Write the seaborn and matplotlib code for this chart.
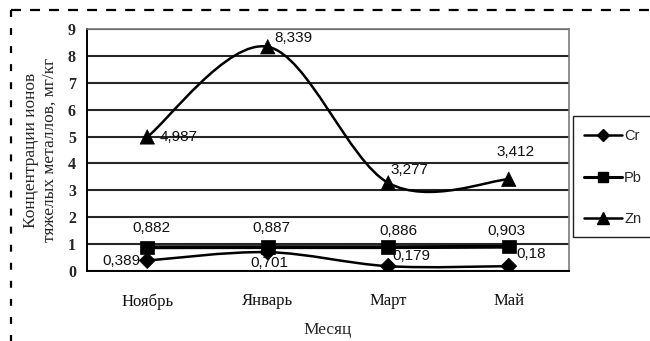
import numpy as np
import pandas as pd
import matplotlib
matplotlib.use("Agg")
import matplotlib.pyplot as plt
from matplotlib.path import Path
from matplotlib.patches import PathPatch, Rectangle
from matplotlib.lines import Line2D
import seaborn as sns

# Data
months = ["Ноябрь", "Январь", "Март", "Май"]
cr = [0.389, 0.701, 0.179, 0.18]
pb = [0.882, 0.887, 0.886, 0.903]
zn = [4.987, 8.339, 3.277, 3.412]
cr_labels = ["0,389", "0,701", "0,179", "0,18"]
pb_labels = ["0,882", "0,887", "0,886", "0,903"]
zn_labels = ["4,987", "8,339", "3,277", "3,412"]
y_ticks = list(range(0, 10))

sns.set_style("white")
plt.rcParams["font.family"] = ["Liberation Serif", "DejaVu Serif"]

df = pd.DataFrame({
    "Месяц": months * 3,
    "x": list(range(len(months))) * 3,
    "value": cr + pb + zn,
    "element": ["Cr"] * 4 + ["Pb"] * 4 + ["Zn"] * 4,
})

fig = plt.figure(figsize=(6.5, 3.41), dpi=100)
W, H = 650, 341
ax = fig.add_axes([87 / W, 1 - 271 / H, 482 / W, 242 / H])


def smooth_path(xs, ys):
    """Cubic Bezier path through the points (Excel-style smoothed line)."""
    pts = np.column_stack([xs, ys]).astype(float)
    n = len(pts)
    verts = [pts[0]]
    codes = [Path.MOVETO]
    for i in range(n - 1):
        p0 = pts[max(i - 1, 0)]
        p1 = pts[i]
        p2 = pts[i + 1]
        p3 = pts[min(i + 2, n - 1)]
        c1 = p1 + (p2 - p0) / 6.0
        c2 = p2 - (p3 - p1) / 6.0
        verts += [c1, c2, p2]
        codes += [Path.CURVE4] * 3
    return Path(verts, codes)


styles = {"Cr": ("D", 6.5, 1.8), "Pb": ("s", 7.8, 2.8), "Zn": ("^", 8.3, 1.8)}
series = {"Cr": cr, "Pb": pb, "Zn": zn}

for name, vals in series.items():
    marker, ms, lw = styles[name]
    ax.add_patch(PathPatch(smooth_path(range(len(vals)), vals), fill=False,
                           edgecolor="black", lw=lw, zorder=3,
                           capstyle="round", joinstyle="round"))

sns.scatterplot(data=df, x="x", y="value", style="element", hue="element",
                markers={k: v[0] for k, v in styles.items()},
                palette={"Cr": "black", "Pb": "black", "Zn": "black"},
                size="element", sizes={k: (v[1] * 1.25) ** 2 for k, v in styles.items()},
                edgecolor="black", linewidth=0.5, legend=False, zorder=4, ax=ax)

# Value labels
lab_font = dict(family=["Liberation Sans", "DejaVu Sans"], fontsize=11, color="#111111")
zn_off = [((12, 0), "left"), ((7, 9), "left"), ((2, 13), "left"), ((7, 27), "center")]
pb_off = [((4, 19), "center"), ((4, 19), "center"), ((10, 16), "center"), ((-2, 16), "center")]
cr_off = [((-7, 0), "right"), ((2, -11), "center"), ((4, 10), "left"), ((8, 12), "left")]
for vals, labs, offs in [(zn, zn_labels, zn_off), (pb, pb_labels, pb_off), (cr, cr_labels, cr_off)]:
    for i, (v, t, (off, ha)) in enumerate(zip(vals, labs, offs)):
        ax.annotate(t, (i, v), xytext=off, textcoords="offset pixels",
                    ha=ha, va="center", zorder=5, **lab_font)

# Axes
ax.set_xlim(-0.5, len(months) - 0.5)
ax.set_ylim(0, 9)
ax.set_yticks(y_ticks)
ax.set_yticklabels([str(t) for t in y_ticks], fontweight="bold", fontsize=11.5)
ax.set_xticks(range(len(months)))
ax.set_xticklabels(months, fontsize=12)
ax.set_xticks(np.arange(-0.5, len(months)), minor=True)
ax.tick_params(axis="x", which="major", length=0, pad=16, colors="#111111")
ax.tick_params(axis="x", which="minor", length=6, width=1.3, direction="out", color="black")
ax.tick_params(axis="y", which="major", length=6, width=1.3, direction="out", pad=2, color="black")
ax.yaxis.grid(True, color="#262626", lw=1.5)
ax.set_axisbelow(True)
for side in ["top", "right"]:
    ax.spines[side].set_color("#7a7a7a")
    ax.spines[side].set_linewidth(1.2)
for side in ["left", "bottom"]:
    ax.spines[side].set_color("black")
    ax.spines[side].set_linewidth(1.4)

ax.set_xlabel("Месяц", fontsize=12.5, labelpad=9)
ax.set_ylabel("Концентрации ионов\nтяжелых металлов, мг/кг", fontsize=12.5,
              labelpad=7, linespacing=1.25)

# Legend
handles = [Line2D([], [], color="black", lw=styles[k][2] if k != "Pb" else 2.2,
                  marker=styles[k][0], markersize=styles[k][1], label=k)
           for k in series]
leg = fig.legend(handles=handles, loc="upper left",
                 bbox_to_anchor=(584 / W, 1 - 129 / H), bbox_transform=fig.transFigure,
                 frameon=False, handlelength=2.6, handletextpad=0.15,
                 labelspacing=1.9, borderpad=0, borderaxespad=0,
                 prop={"family": ["Liberation Sans", "DejaVu Sans"], "size": 10.5})
fig.add_artist(Rectangle((573 / W, 1 - 237 / H), 100 / W, 121 / H,
                         transform=fig.transFigure, fill=False,
                         edgecolor="#222222", lw=1.0))

# Dashed page frame
plt.rcParams["lines.scale_dashes"] = False
fig.add_artist(Line2D([11 / W, 1.0], [1 - 10 / H] * 2, transform=fig.transFigure,
                      color="black", lw=1.6, dashes=(7.2, 6.5)))
fig.add_artist(Line2D([11 / W] * 2, [1 - 10 / H, 0], transform=fig.transFigure,
                      color="black", lw=1.6, dashes=(5.0, 8.0)))

fig.savefig("out.png", dpi=100)
